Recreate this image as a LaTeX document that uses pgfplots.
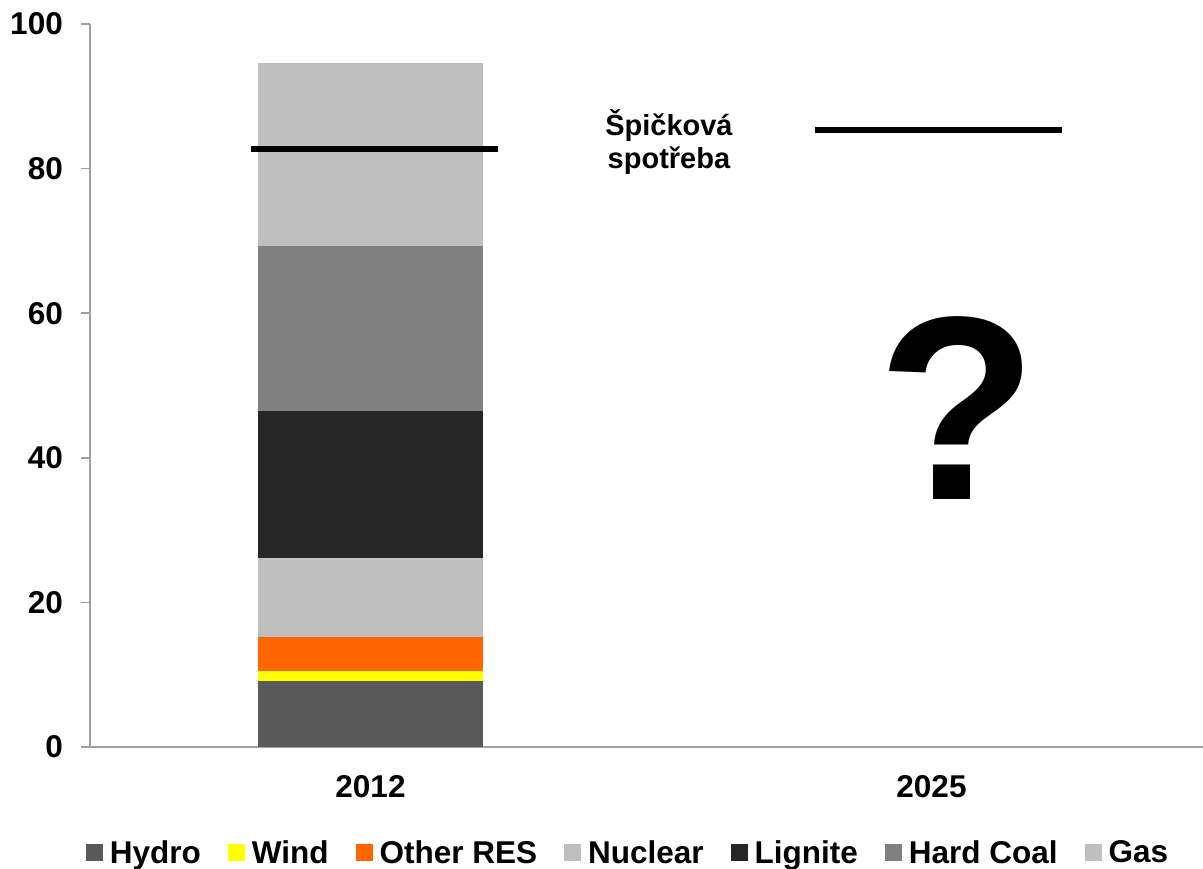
\documentclass[border=0pt]{standalone}
\usepackage{pgfplots}
\pgfplotsset{compat=1.18}
\usepackage{fontspec}
\setmainfont{Liberation Sans}
\definecolor{cHydro}{HTML}{595959}
\definecolor{cWind}{HTML}{FFFF00}
\definecolor{cRES}{HTML}{FF6600}
\definecolor{cNuc}{HTML}{BFBFBF}
\definecolor{cLig}{HTML}{262626}
\definecolor{cCoal}{HTML}{808080}
\definecolor{cGas}{HTML}{BFBFBF}
\definecolor{axgray}{HTML}{A0A0A0}
\newcommand{\lblfont}{\fontsize{31.5bp}{37bp}\selectfont\bfseries}
\begin{document}
\begin{tikzpicture}
\begin{axis}[
  name=ax,
  scale only axis, width=1113bp, height=723bp,
  xmin=-0.5, xmax=1.484, ymin=0, ymax=100,
  ybar stacked, bar width=0.401,
  axis x line*=bottom, axis y line*=left,
  axis line style={axgray, line width=1.5bp},
  ytick={0,20,...,100},
  xtick={0,1}, xticklabels={2012,2025},
  x tick style={draw=none},
  extra x ticks={-0.5,0.5},
  extra x tick labels={},
  extra x tick style={tick style={axgray, line width=1.5bp, draw=axgray}, major tick length=10bp},
  y tick style={axgray, line width=1.5bp},
  tick align=outside, major tick length=9bp,
  /pgf/number format/assume math mode=true,
  tick label style={font=\lblfont, text=black},
  yticklabel style={anchor=east, inner sep=0pt, xshift=-18bp},
  xticklabel style={anchor=north, inner sep=0pt, yshift=-19bp},
  legend columns=-1,
  legend style={draw=none, fill=none, font=\lblfont, at={(0.4825,-0.146)}, anchor=center,
    inner sep=0pt, nodes={inner sep=0pt},
    /tikz/every odd column/.append style={column sep=7bp},
    /tikz/every even column/.append style={column sep=27bp}},
  legend image code/.code={\fill[#1] (0bp,-8.5bp) rectangle (17bp,8.5bp);},
]
\addplot[fill=cHydro, draw=none] coordinates {(0,9.13)};
\addplot[fill=cWind, draw=none] coordinates {(0,1.38)};
\addplot[fill=cRES, draw=none] coordinates {(0,4.70)};
\addplot[fill=cNuc, draw=none] coordinates {(0,10.93)};
\addplot[fill=cLig, draw=none] coordinates {(0,20.33)};
\addplot[fill=cCoal, draw=none] coordinates {(0,22.82)};
\addplot[fill=cGas, draw=none] coordinates {(0,25.32)};
\legend{Hydro,Wind,Other RES,Nuclear,Lignite,Hard Coal,Gas}
\end{axis}
\begin{axis}[
  scale only axis, width=1113bp, height=723bp,
  xmin=-0.5, xmax=1.484, ymin=0, ymax=100,
  hide axis, clip=false,
]
\addplot[black, line width=6bp, no marks, forget plot] coordinates {(-0.213,82.7) (0.227,82.7)};
\addplot[black, line width=6bp, no marks, forget plot] coordinates {(0.792,85.3) (1.233,85.3)};
\node[anchor=base, inner sep=0pt, font=\fontsize{29bp}{33bp}\selectfont\bfseries] at (axis cs:0.532,84.6) {Špičková};
\node[anchor=base, inner sep=0pt, font=\fontsize{29bp}{33bp}\selectfont\bfseries] at (axis cs:0.532,80.0) {spotřeba};
\node[anchor=base, inner sep=0pt, font=\fontsize{262bp}{300bp}\selectfont\bfseries] at (axis cs:1.047,34.2) {?};
\end{axis}
\pgfresetboundingbox
\path ([shift={(-90bp,-122bp)}]ax.south west) rectangle ++(1203bp,869bp);
\end{tikzpicture}
\end{document}
